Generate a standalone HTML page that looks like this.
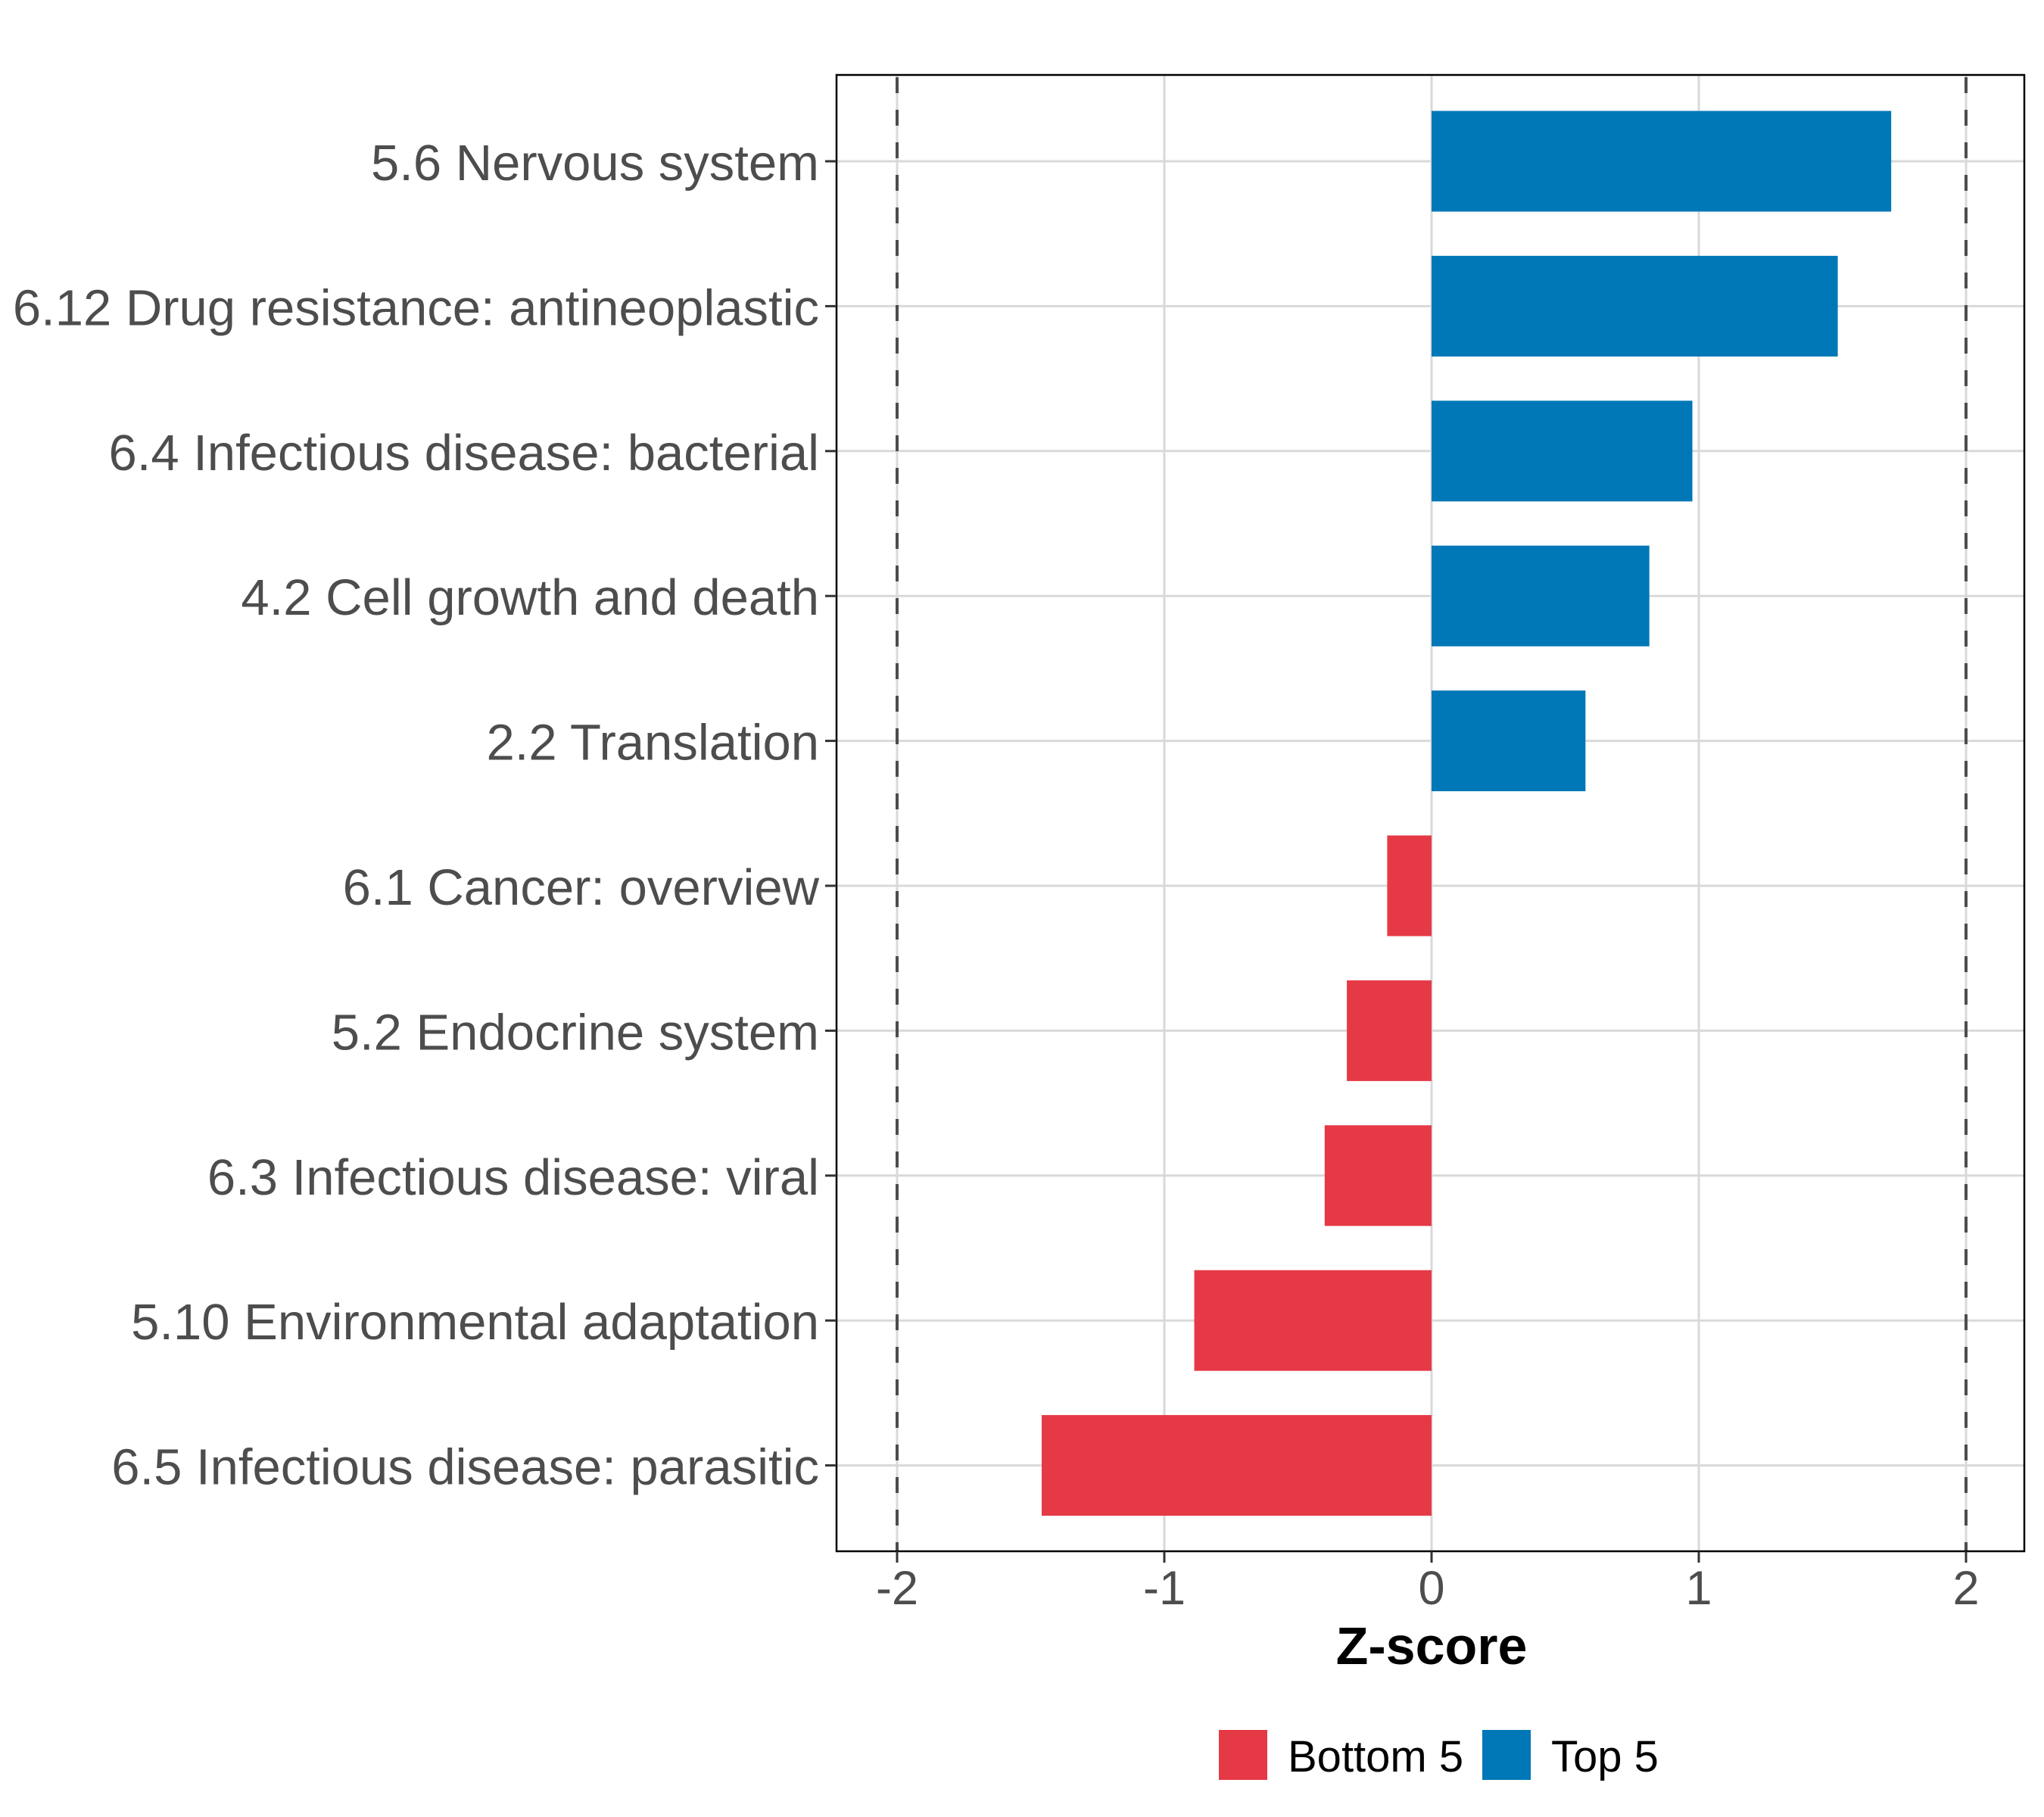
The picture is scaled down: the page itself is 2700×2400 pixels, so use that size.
<!DOCTYPE html>
<html><head><meta charset="utf-8"><style>html,body{margin:0;padding:0;background:#fff}svg{display:block}text{font-family:"Liberation Sans",Arial,sans-serif}</style></head>
<body>
<svg id="chart" width="2700" height="2400" viewBox="0 0 2700 2400" xmlns="http://www.w3.org/2000/svg">
<rect x="0" y="0" width="2700" height="2400" fill="#fff"/>
<g id="grid"></g>
<g id="bars"></g>
<g id="refs"></g>
<rect x="1105" y="99" width="1569" height="1950" fill="none" stroke="#000" stroke-width="2.5"/>
<g id="yaxis"></g>
<g id="xaxis"></g>
<text x="1891" y="2198" text-anchor="middle" font-size="70" font-weight="bold" fill="#000">Z-score</text>
<g>
<rect x="1610" y="2285" width="64" height="66" fill="#E63946"/>
<text x="1701" y="2340" font-size="58" fill="#000">Bottom 5</text>
<rect x="1958" y="2285" width="64" height="66" fill="#0077B6"/>
<text x="2049" y="2340" font-size="58" fill="#000">Top 5</text>
</g>
</svg>
<script>
const categories = ["5.6 Nervous system","6.12 Drug resistance: antineoplastic","6.4 Infectious disease: bacterial","4.2 Cell growth and death","2.2 Translation","6.1 Cancer: overview","5.2 Endocrine system","6.3 Infectious disease: viral","5.10 Environmental adaptation","6.5 Infectious disease: parasitic"];
const zscores = [1.72,1.52,0.976,0.815,0.576,-0.166,-0.317,-0.40,-0.888,-1.459];
const groups = ["Top 5","Top 5","Top 5","Top 5","Top 5","Bottom 5","Bottom 5","Bottom 5","Bottom 5","Bottom 5"];
const xTicks = [-2,-1,0,1,2];
const xTickLabels = ["-2","-1","0","1","2"];
const refLines = [-2,2];

const NS="http://www.w3.org/2000/svg";
const X0=1891, XU=353;
function x(v){return X0+v*XU;}
function y(i){return 213+i*191.4;}
const colors={"Top 5":"#0077B6","Bottom 5":"#E63946"};
function mk(tag,attrs,parent){const e=document.createElementNS(NS,tag);for(const k in attrs)e.setAttribute(k,attrs[k]);parent.appendChild(e);return e;}
const grid=document.getElementById('grid'),bars=document.getElementById('bars'),refs=document.getElementById('refs'),ya=document.getElementById('yaxis'),xa=document.getElementById('xaxis');
xTicks.forEach((t,i)=>{
  const l=mk('line',{x1:x(t),x2:x(t),y1:99,y2:2049,stroke:'#d9d9d9','stroke-width':3},grid);
  
  
  const tk=mk('line',{x1:x(t),x2:x(t),y1:2049,y2:2064,stroke:'#333','stroke-width':3},xa);
  
  
  const tx=mk('text',{x:x(t),y:2119,'text-anchor':'middle','font-size':63,fill:'#4d4d4d'},xa);
  tx.textContent=xTickLabels[i];
  
  
});
categories.forEach((c,i)=>{
  const g=mk('line',{x1:1105,x2:2674,y1:y(i),y2:y(i),stroke:'#d9d9d9','stroke-width':3},grid);
  
  
  const v=zscores[i];
  const r=mk('rect',{x:Math.min(x(0),x(v)),y:y(i)-66.5,width:Math.abs(x(v)-x(0)),height:133,fill:colors[groups[i]]},bars);
  
  
  const tk=mk('line',{x1:1090,x2:1105,y1:y(i),y2:y(i),stroke:'#333','stroke-width':3},ya);
  
  
  const t=mk('text',{x:1082,y:y(i)+25,'text-anchor':'end','font-size':67,fill:'#4d4d4d'},ya);
  t.textContent=c;
  
  
});
refLines.forEach(v=>{
  const l=mk('line',{x1:x(v),x2:x(v),y1:99,y2:2049,stroke:'#4d4d4d','stroke-width':4,'stroke-dasharray':'21 22','stroke-dashoffset':'-3'},refs);
  
  
});
</script>
</body></html>
